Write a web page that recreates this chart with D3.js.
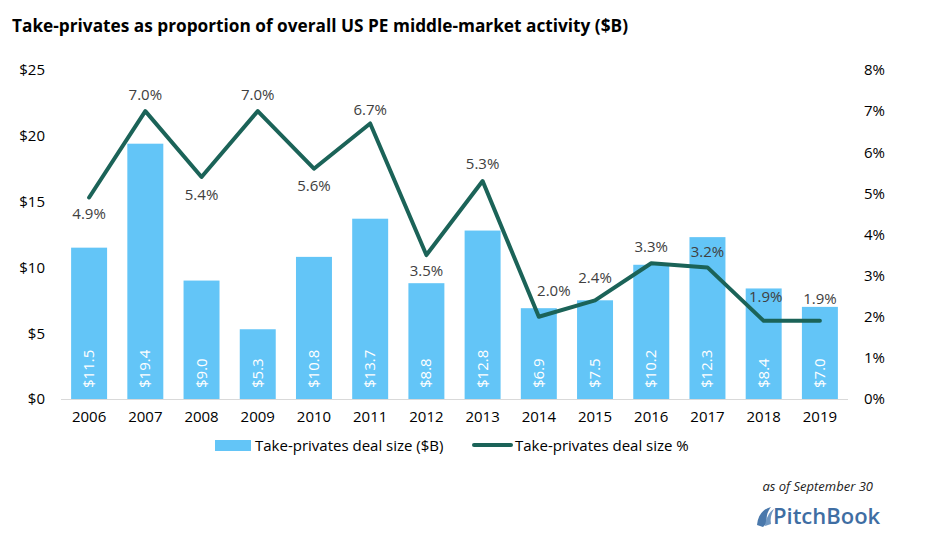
<!DOCTYPE html>
<html><head><meta charset="utf-8">
<script src="https://cdn.jsdelivr.net/npm/d3@7"></script>
<style>body{margin:0;background:#fff}svg{display:block}</style>
</head><body>
<script>
const years = ["2006","2007","2008","2009","2010","2011","2012","2013","2014","2015","2016","2017","2018","2019"];
const dealSize = [11.5,19.4,9.0,5.3,10.8,13.7,8.8,12.8,6.9,7.5,10.2,12.3,8.4,7.0];
const dealPct = [4.9,7.0,5.4,7.0,5.6,6.7,3.5,5.3,2.0,2.4,3.3,3.2,1.9,1.9];
const leftTicks = [0,5,10,15,20,25];
const rightTicks = [0,1,2,3,4,5,6,7,8];

// label placement (layout only)
const pctLabelDy = [22,-11,23,-11,22,-8,21,-12,-21,-17,-11,-10,-19,-17];
const pctLabelDx = [0,0,0,0,0,0,0,0,15,0,0,0,2,0];

const W=928,H=545;
const font="'Open Sans', 'Liberation Sans', sans-serif";
const svg=d3.select("body").append("svg").attr("width",W).attr("height",H).style("font-family",font);

const x=d3.scaleBand().domain(years).range([61,848]).paddingInner(0.36).paddingOuter(0.18);
const yL=d3.scaleLinear().domain([0,25]).range([399,70]);
const yR=d3.scaleLinear().domain([0,8]).range([399,70]);

svg.append("text").attr("x",12).attr("y",32).attr("font-size",17).attr("font-weight","bold")
  .attr("fill","#000").attr("textLength",616).attr("lengthAdjust","spacingAndGlyphs")
  .text("Take-privates as proportion of overall US PE middle-market activity ($B)");

const gl=svg.append("g").attr("transform","translate(45,0)").call(d3.axisLeft(yL).tickValues(leftTicks).tickSize(0).tickPadding(0).tickFormat(d=>"$"+d));
gl.select(".domain").remove();
gl.selectAll("text").attr("font-size",15).attr("fill","#000").style("font-family",font);

const gr=svg.append("g").attr("transform","translate(864,0)").call(d3.axisRight(yR).tickValues(rightTicks).tickSize(0).tickPadding(0).tickFormat(d=>d+"%"));
gr.select(".domain").remove();
gr.selectAll("text").attr("font-size",15).attr("fill","#000").style("font-family",font);

svg.append("g").selectAll("rect").data(years).join("rect")
  .attr("x",d=>x(d)).attr("width",x.bandwidth())
  .attr("y",(d,i)=>yL(dealSize[i])).attr("height",(d,i)=>yL(0)-yL(dealSize[i]))
  .attr("fill","#63C5F7");

svg.append("line").attr("x1",61).attr("x2",848).attr("y1",399.5).attr("y2",399.5).attr("stroke","#d9d9d9").attr("stroke-width",1);

const gx=svg.append("g").attr("transform","translate(0,399)").call(d3.axisBottom(x).tickSize(0).tickPadding(12));
gx.select(".domain").remove();
gx.selectAll("text").attr("font-size",15).attr("fill","#000").style("font-family",font);

svg.append("g").selectAll("text").data(years).join("text")
  .attr("transform",(d,i)=>`translate(${x(d)+x.bandwidth()/2+5},388) rotate(-90)`)
  .attr("font-size",15).attr("fill","#fff").attr("text-anchor","start")
  .text((d,i)=>"$"+dealSize[i].toFixed(1));

const line=d3.line().x((d,i)=>x(years[i])+x.bandwidth()/2).y(d=>yR(d));
svg.append("path").datum(dealPct).attr("d",line).attr("fill","none").attr("stroke","#1B6358").attr("stroke-width",4).attr("stroke-linejoin","round").attr("stroke-linecap","round");

svg.append("g").selectAll("text").data(dealPct).join("text")
  .attr("x",(d,i)=>x(years[i])+x.bandwidth()/2+pctLabelDx[i])
  .attr("y",(d,i)=>yR(d)+pctLabelDy[i])
  .attr("text-anchor","middle").attr("font-size",15).attr("fill","#404040")
  .text(d=>d.toFixed(1)+"%");

svg.append("rect").attr("x",215).attr("y",440).attr("width",36).attr("height",11).attr("fill","#63C5F7");
svg.append("text").attr("x",255).attr("y",451).attr("font-size",15).attr("fill","#000").text("Take-privates deal size ($B)");
svg.append("line").attr("x1",474).attr("x2",511).attr("y1",445).attr("y2",445).attr("stroke","#1B6358").attr("stroke-width",4).attr("stroke-linecap","round");
svg.append("text").attr("x",515).attr("y",451).attr("font-size",15).attr("fill","#000").text("Take-privates deal size %");

svg.append("text").attr("x",873).attr("y",491).attr("text-anchor","end").attr("font-size",13).attr("font-style","italic").attr("fill","#222").text("as of September 30");

const lg=svg.append("g").attr("transform","translate(755,505)");
lg.append("path").attr("d","M2,20 C3,10 8,4 16,2 C12,7 11,12 12,18 L8,22 Z").attr("fill","#4a78ab");
lg.append("path").attr("d","M10,21 C11,13 14,7 19,4 C16,9 15,14 16,19 Z").attr("fill","#6f97c2");
svg.append("text").attr("x",773).attr("y",524).attr("font-size",22).attr("fill","#3f6ea3").attr("font-weight","600").text("PitchBook");
</script>
</body></html>
